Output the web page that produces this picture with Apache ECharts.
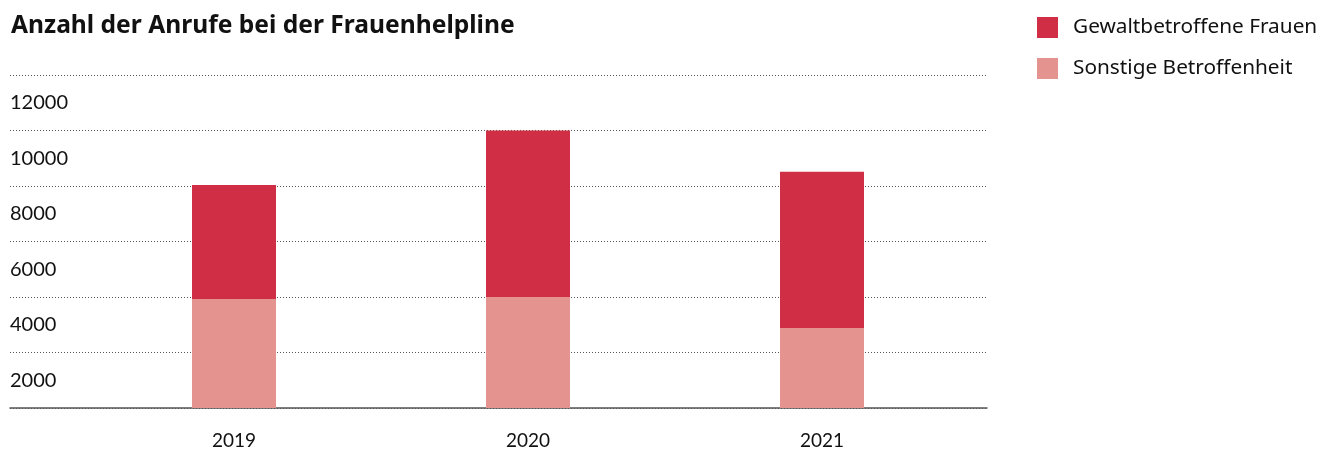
<!DOCTYPE html>
<html>
<head>
<meta charset="utf-8">
<script src="https://cdn.jsdelivr.net/npm/echarts@6/dist/echarts.min.js"></script>
<style>
  html, body { margin: 0; padding: 0; background: #fff; }
  #chart { width: 1322px; height: 452px; }
</style>
</head>
<body>
<div id="chart"></div>
<script>
// Calls to the women's helpline per year
const years = ['2019', '2020', '2021'];
const gewaltbetroffene = [4110, 6000, 5630];   // Gewaltbetroffene Frauen
const sonstige = [3930, 4000, 2880];           // Sonstige Betroffenheit
const yTicks = [0, 2000, 4000, 6000, 8000, 10000, 12000];

const FONT = 'Lato, "Noto Sans", sans-serif';
const WIDE_FONT = '"Noto Sans", Lato, sans-serif';
const DARK = '#CF2E45';
const LIGHT = '#E4938E';
const yMin = yTicks[0], yMax = yTicks[yTicks.length - 1], yStep = yTicks[1] - yTicks[0];

const chart = echarts.init(document.getElementById('chart'));
chart.setOption({
  animation: false,
  title: {
    text: 'Anzahl der Anrufe bei der Frauenhelpline',
    left: 6, top: 8,
    textStyle: { fontFamily: WIDE_FONT, fontWeight: 'bold', fontSize: 24.6, color: '#111' }
  },
  legend: {
    data: ['Gewaltbetroffene Frauen', 'Sonstige Betroffenheit'],
    orient: 'vertical',
    left: 1032, top: 12,
    icon: 'rect',
    itemWidth: 21, itemHeight: 21, itemGap: 20,
    textStyle: { fontFamily: WIDE_FONT, fontSize: 20.8, color: '#111', padding: [0, 0, 0, 10] },
    selectedMode: false
  },
  grid: [
    // full-width frame: gridlines, value labels, baseline
    { left: 10, right: 335, top: 75, bottom: 44 },
    // bars and year labels
    { left: 87, right: 353, top: 75, bottom: 44 }
  ],
  xAxis: [
    {
      gridIndex: 0, type: 'value', min: 0, max: 1,
      axisLine: { show: true, lineStyle: { color: '#555', width: 1.5 } },
      axisTick: { show: false }, axisLabel: { show: false }, splitLine: { show: false }
    },
    {
      gridIndex: 1, type: 'category', data: years,
      axisLine: { show: false }, axisTick: { show: false },
      axisLabel: { margin: 23, fontFamily: FONT, fontSize: 19, color: '#111' }
    }
  ],
  yAxis: [
    {
      gridIndex: 0, type: 'value', min: yMin, max: yMax, interval: yStep,
      axisLine: { show: false }, axisTick: { show: false },
      axisLabel: {
        inside: true, verticalAlign: 'top', padding: [18, 0, 0, 0], margin: 0,
        fontFamily: FONT, fontSize: 20, color: '#111',
        formatter: v => (v === 0 ? '' : String(v))
      },
      splitLine: { show: true, lineStyle: { color: '#555', width: 1, type: [1, 2] } }
    },
    {
      gridIndex: 1, type: 'value', min: yMin, max: yMax, interval: yStep,
      show: false, splitLine: { show: false }
    }
  ],
  series: [
    {
      name: 'Sonstige Betroffenheit', type: 'bar', stack: 'total',
      xAxisIndex: 1, yAxisIndex: 1, barWidth: 84,
      itemStyle: { color: LIGHT }, data: sonstige, z: 1
    },
    {
      name: 'Gewaltbetroffene Frauen', type: 'bar', stack: 'total',
      xAxisIndex: 1, yAxisIndex: 1, barWidth: 84,
      itemStyle: { color: DARK }, data: gewaltbetroffene, z: 1
    }
  ]
});
</script>
</body>
</html>
